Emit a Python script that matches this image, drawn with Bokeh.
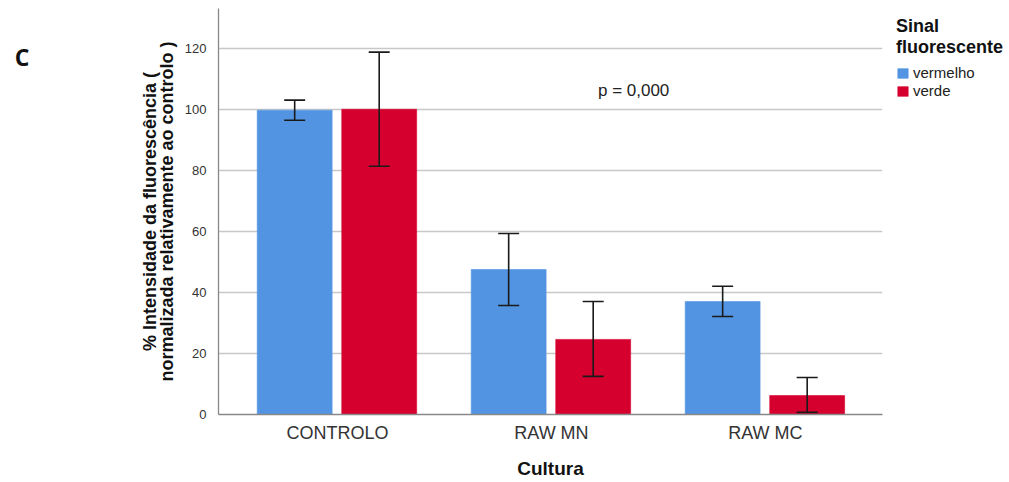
from bokeh.plotting import figure
from bokeh.models import (ColumnDataSource, Range1d, FixedTicker, Label, Legend, LegendItem,
                          LinearAxis)
from bokeh.embed import file_html
from bokeh.resources import INLINE

categories = ["CONTROLO", "RAW MN", "RAW MC"]
series_names = ["vermelho", "verde"]
vermelho_mean = [99.7, 47.5, 37.0]
vermelho_low = [96.4, 35.7, 32.1]
vermelho_high = [103.0, 59.3, 42.0]
verde_mean = [100.0, 24.6, 6.2]
verde_low = [81.3, 12.5, 0.7]
verde_high = [118.7, 37.0, 12.1]
y_ticks = [0, 20, 40, 60, 80, 100, 120]
panel_letter = "C"

colors = ["#5294E2", "#D6002F"]
offsets = [-0.2, 0.195]
bar_w = 0.35
FONT = "Liberation Sans"

p = figure(frame_width=664, frame_height=406,
           min_border_left=218, min_border_right=127, min_border_top=8,
           min_border_bottom=68, output_backend="svg", toolbar_location=None,
           x_range=Range1d(0.444, 3.547), y_range=Range1d(0, 133))
p.outline_line_color = None
p.background_fill_color = "white"
p.border_fill_color = "white"

idx = list(range(1, len(categories) + 1))
legend_items = []
for name, mean, lo, hi, col, off in zip(series_names,
                                        [vermelho_mean, verde_mean],
                                        [vermelho_low, verde_low],
                                        [vermelho_high, verde_high],
                                        colors, offsets):
    src = ColumnDataSource(dict(x=[i + off for i in idx], top=mean, lo=lo, hi=hi))
    r = p.vbar(x="x", top="top", width=bar_w, source=src, fill_color=col,
               line_color=col, line_alpha=0.6)
    legend_items.append(LegendItem(label=name, renderers=[r]))

# error bars drawn after all bars
for mean, lo, hi, off in zip([vermelho_mean, verde_mean], [vermelho_low, verde_low],
                             [vermelho_high, verde_high], offsets):
    src = ColumnDataSource(dict(x=[i + off for i in idx], lo=lo, hi=hi))
    p.segment(x0="x", y0="lo", x1="x", y1="hi", source=src, line_color="#1a1a1a",
              line_width=1.6)
    p.scatter(x="x", y="hi", source=src, marker="dash", size=21,
              line_color="#1a1a1a", line_width=1.6)
    p.scatter(x="x", y="lo", source=src, marker="dash", size=21,
              line_color="#1a1a1a", line_width=1.6)

# axes
p.xaxis.ticker = FixedTicker(ticks=idx)
p.xaxis.major_label_overrides = {i: c for i, c in zip(idx, categories)}
p.yaxis.ticker = FixedTicker(ticks=y_ticks)
p.xgrid.visible = False
p.ygrid.ticker = FixedTicker(ticks=y_ticks[1:])
p.ygrid.grid_line_color = "#c8c8c8"
p.ygrid.grid_line_width = 1.3

for ax in (p.xaxis, p.yaxis):
    ax.major_tick_line_color = None
    ax.minor_tick_line_color = None
    ax.axis_line_color = "#888888"
    ax.axis_line_width = 1.3
    ax.major_label_text_font = FONT
    ax.major_label_text_color = "#333333"
    ax.axis_label_text_font = FONT
    ax.axis_label_text_font_style = "bold"
    ax.axis_label_text_color = "#111111"

p.yaxis.major_label_text_font_size = "13px"
p.yaxis.major_label_standoff = 6
p.yaxis.axis_label = "% Intensidade da fluorescência (\nnormalizada relativamente ao controlo )"
p.yaxis.axis_label_text_font_size = "18px"
p.yaxis.axis_label_text_line_height = 0.82
p.yaxis.axis_label_standoff = 5

p.xaxis.major_label_text_font_size = "18px"
p.xaxis.major_label_standoff = 2
p.xaxis.axis_label = "Cultura"
p.xaxis.axis_label_text_font_size = "19px"
p.xaxis.axis_label_standoff = 12

# panel letter, drawn as the single label of an outer left axis
letter_axis = LinearAxis(ticker=FixedTicker(ticks=[117]),
                         major_label_overrides={117: panel_letter},
                         axis_line_color=None, major_tick_line_color=None,
                         minor_tick_line_color=None, major_label_standoff=102,
                         major_label_text_font="Open Sans",
                         major_label_text_font_style="bold",
                         major_label_text_font_size="23px",
                         major_label_text_color="#111111")
p.add_layout(letter_axis, "left")

# annotations
p.add_layout(Label(x=2.384, y=106.3, text="p = 0,000", text_font=FONT,
                   text_font_size="17px", text_color="#222222",
                   text_align="center", text_baseline="middle"))

legend = Legend(items=legend_items, location=(14, 315), padding=0, margin=0,
                border_line_color=None, background_fill_alpha=0,
                glyph_width=13, glyph_height=12, spacing=1, label_standoff=4,
                label_text_font=FONT, label_text_font_size="15px",
                label_text_color="#222222", label_height=12,
                title="Sinal\nfluorescente", title_text_font=FONT,
                title_text_font_style="bold", title_text_font_size="18px",
                title_text_color="#111111", title_standoff=6,
                title_text_align="center")
p.add_layout(legend, "right")

open("out.html", "w").write(file_html(p, INLINE))
